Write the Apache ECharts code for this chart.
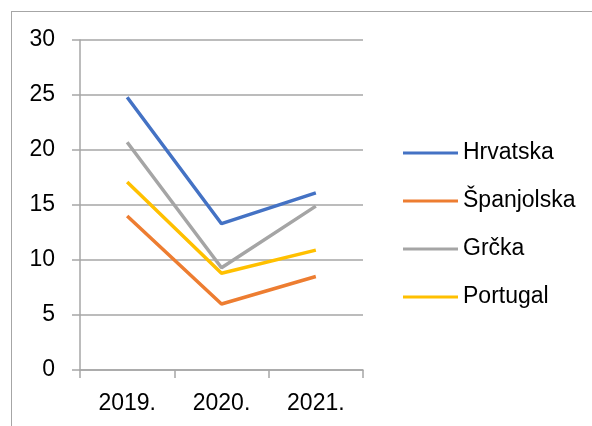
<!DOCTYPE html>
<html>
<head>
<meta charset="utf-8">
<script src="https://cdn.jsdelivr.net/npm/echarts@6/dist/echarts.min.js"></script>
<style>
  html, body { margin: 0; padding: 0; background: #fff; }
  #frame { position: absolute; left: 11px; top: 11px; width: 590px; height: 420px;
           border-left: 1px solid #a6a6a6; border-top: 1px solid #a6a6a6; }
  #chart { position: absolute; left: 0; top: 0; width: 592px; height: 426px; }
</style>
</head>
<body>
<div id="frame"></div>
<div id="chart"></div>
<script>
// podaci
var godine = ['2019.', '2020.', '2021.'];
var hrvatska = [24.8, 13.3, 16.1];
var spanjolska = [14.0, 6.0, 8.5];
var grcka = [20.7, 9.3, 14.9];
var portugal = [17.1, 8.8, 10.9];

var boje = ['#4472C4', '#ED7D31', '#A5A5A5', '#FFC000'];
var siva = '#a6a6a6';
var font = 'Liberation Sans, Arial, sans-serif';

function serija(ime, podaci) {
  return {
    name: ime,
    type: 'line',
    data: podaci,
    symbol: 'none',
    lineStyle: { width: 3.5 }
  };
}

var chart = echarts.init(document.getElementById('chart'));

chart.setOption({
  color: boje,
  animation: false,
  textStyle: { fontFamily: font },
  grid: { left: 80, right: 229, top: 40, bottom: 56 },
  legend: {
    orient: 'vertical',
    left: 398,
    top: 136,
    icon: 'rect',
    itemWidth: 55,
    itemHeight: 3,
    itemGap: 24,
    textStyle: { fontSize: 23, color: '#000', lineHeight: 24, fontFamily: font },
    data: ['Hrvatska', 'Španjolska', 'Grčka', 'Portugal']
  },
  xAxis: {
    type: 'category',
    data: godine,
    boundaryGap: true,
    axisLine: { lineStyle: { color: siva, width: 1.5 } },
    axisTick: { show: true, length: 8, lineStyle: { color: siva, width: 1.5 } },
    axisLabel: { fontSize: 23, color: '#000', margin: 22 }
  },
  yAxis: {
    type: 'value',
    min: 0,
    max: 30,
    interval: 5,
    axisLine: { show: true, lineStyle: { color: siva, width: 1.5 } },
    axisTick: { show: true, length: 8, lineStyle: { color: siva, width: 1.5 } },
    splitLine: { lineStyle: { color: siva, width: 1.5 } },
    axisLabel: { fontSize: 23, color: '#000', margin: 25 }
  },
  series: [
    serija('Hrvatska', hrvatska),
    serija('Španjolska', spanjolska),
    serija('Grčka', grcka),
    serija('Portugal', portugal)
  ]
});
</script>
</body>
</html>
